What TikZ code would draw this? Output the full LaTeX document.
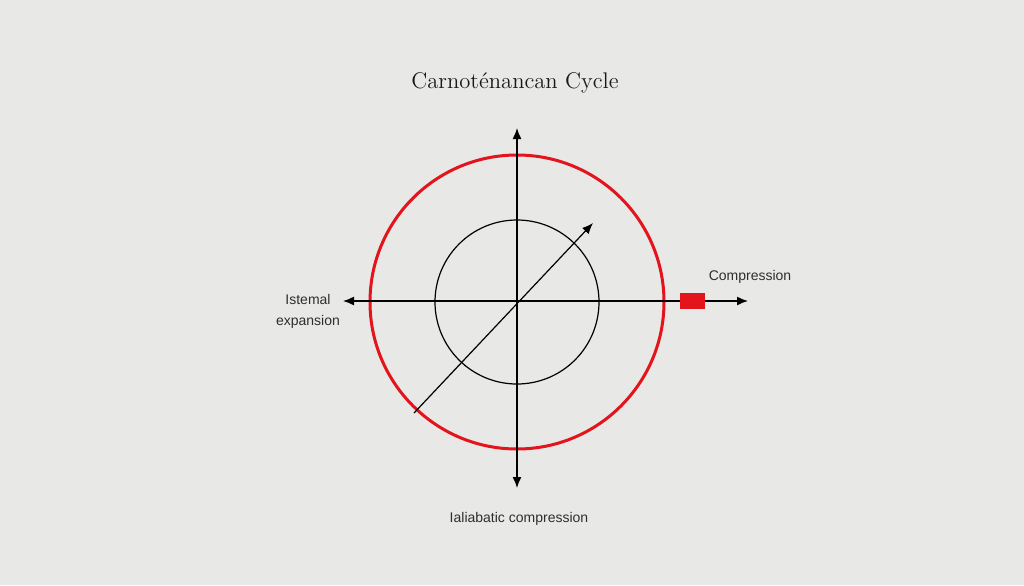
\documentclass[tikz,border=0pt]{standalone}
\usepackage{fontspec}
\newfontfamily\etichetta{Liberation Sans}
\usepackage{xcolor}
\usetikzlibrary{arrows.meta, calc}
\definecolor{sfondo}{HTML}{E8E8E6}
\definecolor{rosso}{HTML}{E3141C}
\definecolor{grigiotesto}{HTML}{2E2E2E}

\begin{document}
\begin{tikzpicture}[>={Latex[length=5.5pt,width=4.5pt]}, x=0.5pt, y=-0.5pt,
    asse/.style={<->, black, line width=0.7pt},
    testo/.style={font=\etichetta\fontsize{7}{10.5}\selectfont, text=grigiotesto, align=center}]
        % Sfondo e dimensioni
        \fill[sfondo] (0,0) rectangle (1024,585);
        \useasboundingbox (0,0) rectangle (1024,585);
        
        % Titolo
        \node[text=black!90, font=\fontsize{11.3}{14}\selectfont] (titolo) at (515,83) {Carnoténancan Cycle};
        
        % Centro ed estremi degli assi
        \coordinate (O) at (517,302);
        \coordinate (alto) at (517,128);
        \coordinate (basso) at (517,488);
        \coordinate (sinistra) at (343,301);
        \coordinate (destra) at (748,301);
        \coordinate (diagA) at (414,413);
        \coordinate (diagB) at (593,223);
        
        % Cerchio rosso esterno
        \draw[rosso, line width=1.5pt] (O) circle (147);
        
        % Cerchio interno
        \draw[black, line width=0.6pt] (O) circle (82);
        
        % Assi
        \draw[asse] (basso) -- (alto);
        \draw[asse] (sinistra) -- (destra);
        
        % Freccia diagonale
        \draw[->, black, line width=0.6pt] (diagA) -- (diagB);
        
        % Rettangolo rosso sull'asse orizzontale
        \node[fill=rosso, inner sep=0pt, minimum width=12.5pt, minimum height=8pt] (blocco) at (692,301) {};
        
        % Etichette
        \node[testo] (espansione) at (308,311) {Istemal\\expansion};
        \node[testo] (compressione) at (750,277) {Compression};
        \node[testo] (adiabatica) at (519,519) {Ialiabatic compression};
        
    \end{tikzpicture}
\end{document}
